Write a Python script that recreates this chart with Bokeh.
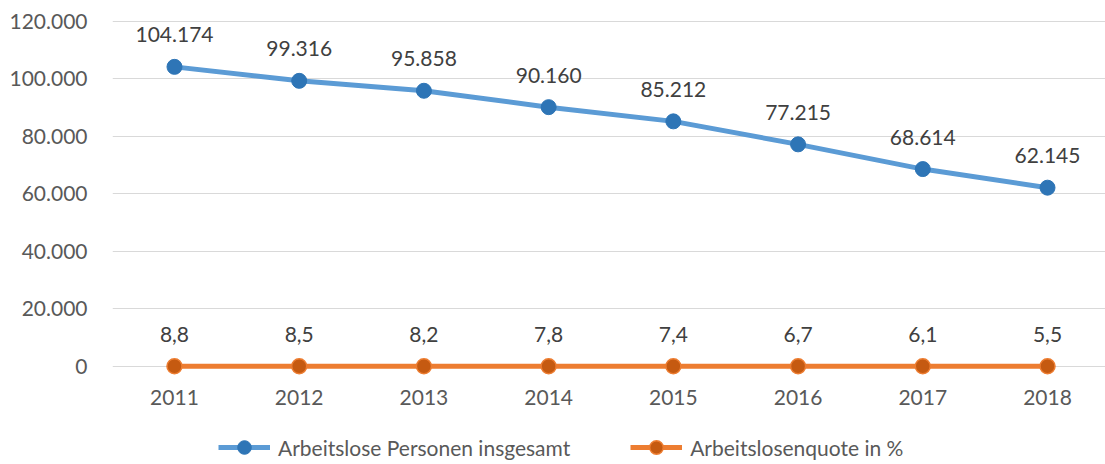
from bokeh.plotting import figure
from bokeh.layouts import column
from bokeh.models import FixedTicker, Legend, LegendItem, Range1d, ColumnDataSource
from bokeh.core.properties import value
from bokeh.embed import file_html
from bokeh.resources import INLINE

years = [2011, 2012, 2013, 2014, 2015, 2016, 2017, 2018]
personen = [104174, 99316, 95858, 90160, 85212, 77215, 68614, 62145]
quote = [8.8, 8.5, 8.2, 7.8, 7.4, 6.7, 6.1, 5.5]
y_ticks = [0, 20000, 40000, 60000, 80000, 100000, 120000]
series_names = ["Arbeitslose Personen insgesamt", "Arbeitslosenquote in %"]

FONT = "Lato"
FS = "21px"
TXT = "#595959"
BLUE_LINE, BLUE_DOT = "#5B9BD5", "#2E75B6"
ORANGE_LINE, ORANGE_DOT = "#ED7D31", "#C55A11"

def de_int(v):
    return f"{v:,}".replace(",", ".")

def de_dec(v):
    return f"{v:.1f}".replace(".", ",")

p = figure(width=1105, height=420, output_backend="svg", toolbar_location=None,
           x_range=Range1d(2010.503, 2018.465), y_range=Range1d(-3200, 121000),
           min_border_left=112, min_border_right=0, min_border_top=18, min_border_bottom=45)
p.outline_line_color = None
p.background_fill_color = "white"
p.border_fill_color = "white"

p.xgrid.visible = False
p.ygrid.grid_line_color = "#D9D9D9"
p.ygrid.grid_line_width = 1
p.ygrid.ticker = FixedTicker(ticks=y_ticks)

p.yaxis.ticker = FixedTicker(ticks=y_ticks)
p.yaxis.major_label_overrides = {t: de_int(t) for t in y_ticks}
p.xaxis.ticker = FixedTicker(ticks=years)
p.xaxis.major_label_overrides = {y: str(y) for y in years}
for ax in (p.xaxis[0], p.yaxis[0]):
    ax.axis_line_color = None
    ax.major_tick_line_color = None
    ax.minor_tick_line_color = None
    ax.major_label_text_font = FONT
    ax.major_label_text_font_size = FS
    ax.major_label_text_color = TXT
p.yaxis.major_label_standoff = 19
p.xaxis.major_label_standoff = 8

src1 = ColumnDataSource(dict(x=years, y=personen, t=[de_int(v) for v in personen]))
src2 = ColumnDataSource(dict(x=years, y=quote, t=[de_dec(v) for v in quote]))

p.line("x", "y", source=src1, line_color=BLUE_LINE, line_width=5)
p.scatter("x", "y", source=src1, size=15, fill_color=BLUE_DOT, line_color=BLUE_DOT, line_width=1)
p.line("x", "y", source=src2, line_color=ORANGE_LINE, line_width=5)
p.scatter("x", "y", source=src2, size=15, fill_color=ORANGE_DOT, line_color=ORANGE_LINE, line_width=1.5)

for src in (src1, src2):
    p.text("x", "y", text="t", source=src, y_offset=-32, text_align="center",
           text_baseline="middle", text_font=value(FONT), text_font_size=FS,
           text_color="#404040")

# legend strip below the chart (its renderers reuse the series data, which lies
# outside this strip's 0..1 ranges, so only the legend glyphs are visible)
p2 = figure(width=1105, height=44, output_backend="svg", toolbar_location=None,
            x_range=Range1d(0, 1), y_range=Range1d(0, 1),
            x_axis_location=None, y_axis_location=None,
            min_border=0, min_border_left=0, min_border_right=0,
            min_border_top=0, min_border_bottom=0)
p2.outline_line_color = None
p2.grid.visible = False
p2.background_fill_color = "white"
p2.border_fill_color = "white"

g1 = p2.line("x", "y", source=src1, line_color=BLUE_LINE, line_width=5)
h1 = p2.scatter("x", "y", source=src1, size=15, fill_color=BLUE_DOT, line_color=BLUE_DOT, line_width=1)
g2 = p2.line("x", "y", source=src2, line_color=ORANGE_LINE, line_width=5)
h2 = p2.scatter("x", "y", source=src2, size=15, fill_color=ORANGE_DOT, line_color=ORANGE_LINE, line_width=1.5)

legend = Legend(items=[LegendItem(label=series_names[0], renderers=[g1, h1]),
                       LegendItem(label=series_names[1], renderers=[g2, h2])],
                orientation="horizontal", location=(106, 0),
                glyph_width=52, glyph_height=34, label_standoff=8, spacing=60,
                padding=0, margin=0, border_line_color=None, background_fill_alpha=0,
                label_text_font=FONT, label_text_font_size=FS, label_text_color=TXT)
p2.add_layout(legend, "center")

layout = column(p, p2, spacing=0)
open("out.html", "w").write(file_html(layout, INLINE))
